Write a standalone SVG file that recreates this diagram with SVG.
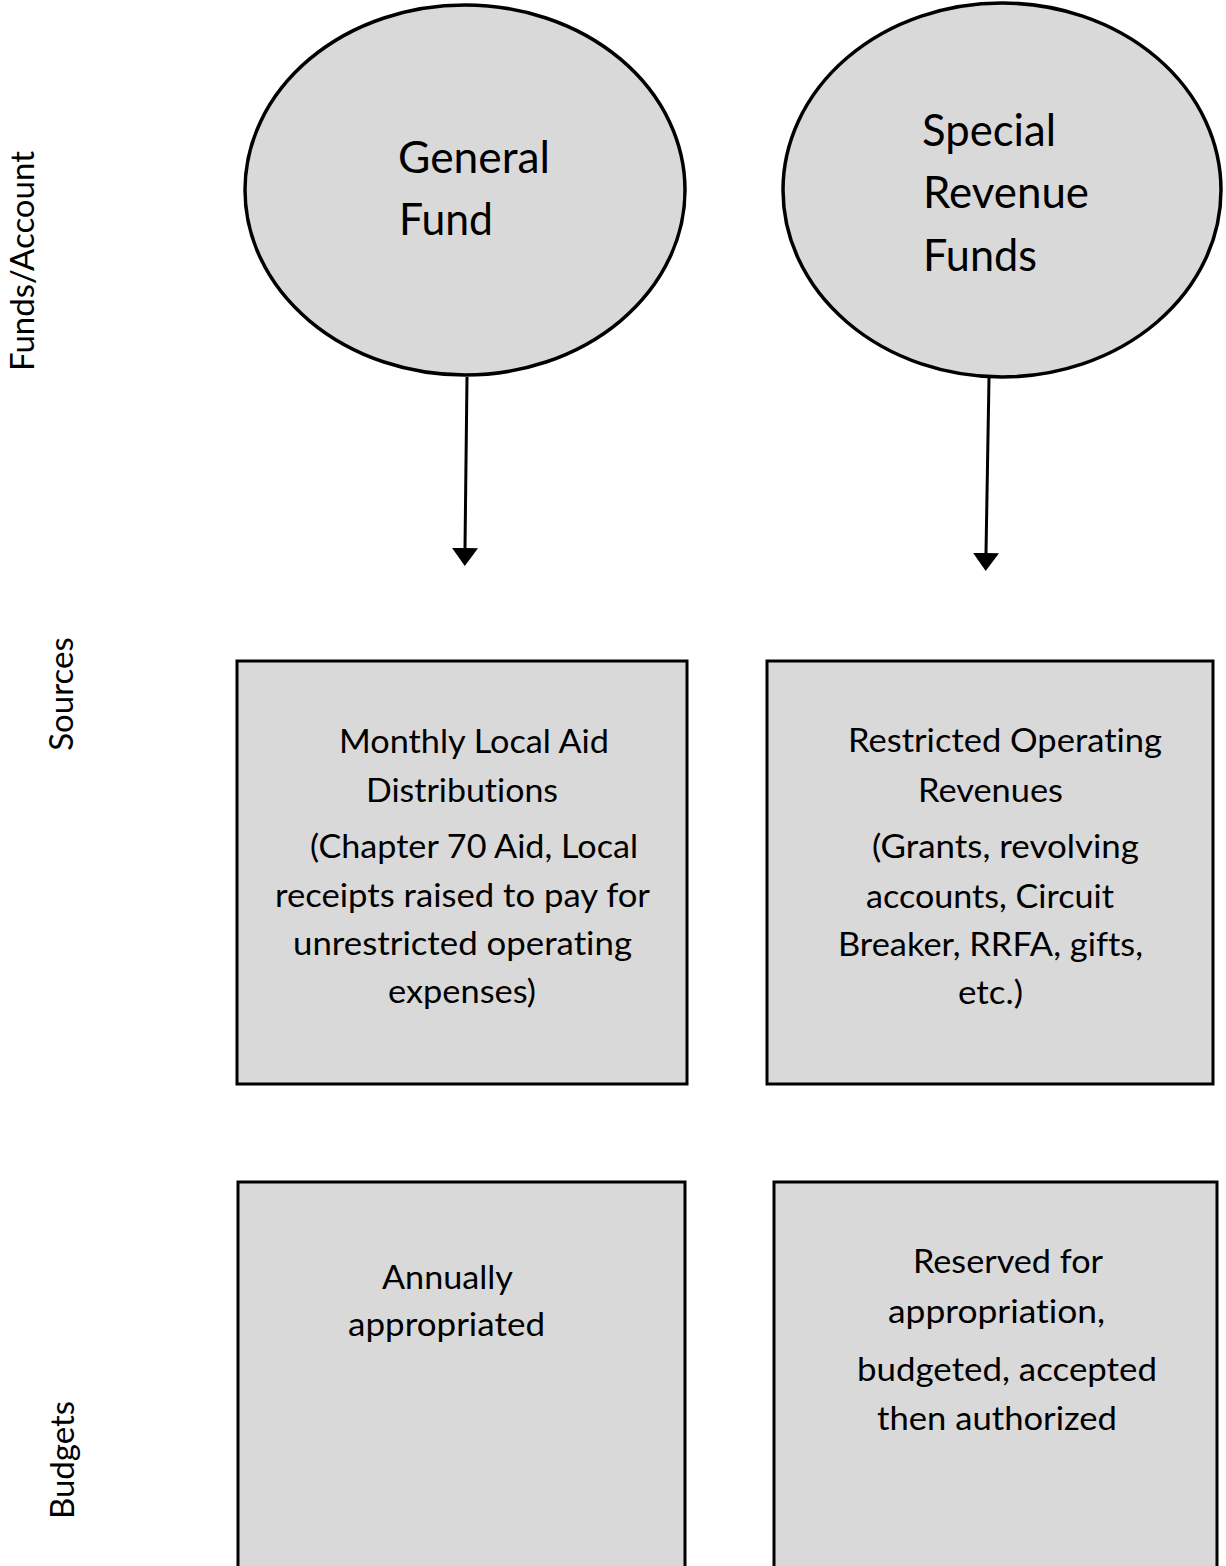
<svg xmlns="http://www.w3.org/2000/svg" width="1226" height="1566" viewBox="0 0 1226 1566">
<style>
.shape{fill:#d9d9d9;stroke:#000;stroke-width:3}
.oval{stroke-width:3.5}
.t{font-family:Lato,"Liberation Sans",sans-serif;font-size:33px;fill:#000;font-variant-ligatures:none;font-feature-settings:"liga" 0,"clig" 0,"dlig" 0,"calt" 0}
.big{font-family:Lato,"Liberation Sans",sans-serif;font-size:44px;fill:#000;font-variant-ligatures:none;font-feature-settings:"liga" 0,"clig" 0,"dlig" 0,"calt" 0}
.lab{font-family:Lato,"Liberation Sans",sans-serif;font-size:33px;fill:#000;text-anchor:middle}
.conn{stroke:#000;stroke-width:3;fill:none}
</style>
<defs>
<marker id="ah" markerUnits="userSpaceOnUse" markerWidth="18" markerHeight="26" viewBox="0 0 18 26" refX="0" refY="13" orient="auto">
<path d="M0,0 L18,13 L0,26 z" fill="#000"/>
</marker>
</defs>
<rect width="1226" height="1566" fill="#fff"/>
<g id="row-labels">
<text class="lab" transform="translate(34,261) rotate(-90)">Funds/Account</text>
<text class="lab" transform="translate(73,694) rotate(-90)">Sources</text>
<text class="lab" transform="translate(74,1460) rotate(-90)">Budgets</text>
</g>
<g id="general-fund">
<ellipse class="shape oval" cx="465" cy="190" rx="220" ry="185"/>
<text class="big" x="398" y="173" textLength="152" lengthAdjust="spacingAndGlyphs">General</text>
<text class="big" x="399" y="235" textLength="94" lengthAdjust="spacingAndGlyphs">Fund</text>
</g>
<g id="special-revenue-funds">
<ellipse class="shape oval" cx="1002" cy="190" rx="219" ry="187"/>
<text class="big" x="922" y="146" textLength="134" lengthAdjust="spacingAndGlyphs">Special</text>
<text class="big" x="923" y="208" textLength="166" lengthAdjust="spacingAndGlyphs">Revenue</text>
<text class="big" x="923" y="271" textLength="114" lengthAdjust="spacingAndGlyphs">Funds</text>
</g>
<g id="connectors">
<line class="conn" x1="467" y1="377" x2="465" y2="548" marker-end="url(#ah)"/>
<line class="conn" x1="989" y1="378" x2="986" y2="553" marker-end="url(#ah)"/>
</g>
<g id="monthly-local-aid">
<rect class="shape" x="237" y="661" width="450" height="423"/>
<text class="t" x="339" y="753" textLength="270" lengthAdjust="spacingAndGlyphs">Monthly Local Aid</text>
<text class="t" x="366" y="802" textLength="192" lengthAdjust="spacingAndGlyphs">Distributions</text>
<text class="t" x="310" y="858" textLength="328" lengthAdjust="spacingAndGlyphs">(Chapter 70 Aid, Local</text>
<text class="t" x="275" y="907" textLength="375" lengthAdjust="spacingAndGlyphs">receipts raised to pay for</text>
<text class="t" x="293" y="955" textLength="339" lengthAdjust="spacingAndGlyphs">unrestricted operating</text>
<text class="t" x="388" y="1003" textLength="148" lengthAdjust="spacingAndGlyphs">expenses)</text>
</g>
<g id="restricted-operating-revenues">
<rect class="shape" x="767" y="661" width="446" height="423"/>
<text class="t" x="848" y="752" textLength="314" lengthAdjust="spacingAndGlyphs">Restricted Operating</text>
<text class="t" x="918" y="802" textLength="145" lengthAdjust="spacingAndGlyphs">Revenues</text>
<text class="t" x="872" y="858" textLength="267" lengthAdjust="spacingAndGlyphs">(Grants, revolving</text>
<text class="t" x="866" y="908" textLength="248" lengthAdjust="spacingAndGlyphs">accounts, Circuit</text>
<text class="t" x="838" y="956" textLength="305" lengthAdjust="spacingAndGlyphs">Breaker, RRFA, gifts,</text>
<text class="t" x="958" y="1004" textLength="65" lengthAdjust="spacingAndGlyphs">etc.)</text>
</g>
<g id="annually-appropriated">
<rect class="shape" x="238" y="1182" width="447" height="400"/>
<text class="t" x="382" y="1289" textLength="131" lengthAdjust="spacingAndGlyphs">Annually</text>
<text class="t" x="348" y="1336" textLength="197" lengthAdjust="spacingAndGlyphs">appropriated</text>
</g>
<g id="reserved-for-appropriation">
<rect class="shape" x="774" y="1182" width="443" height="400"/>
<text class="t" x="913" y="1273" textLength="190" lengthAdjust="spacingAndGlyphs">Reserved for</text>
<text class="t" x="888" y="1323" textLength="217" lengthAdjust="spacingAndGlyphs">appropriation,</text>
<text class="t" x="857" y="1381" textLength="300" lengthAdjust="spacingAndGlyphs">budgeted, accepted</text>
<text class="t" x="877" y="1430" textLength="240" lengthAdjust="spacingAndGlyphs">then authorized</text>
</g>
</svg>
